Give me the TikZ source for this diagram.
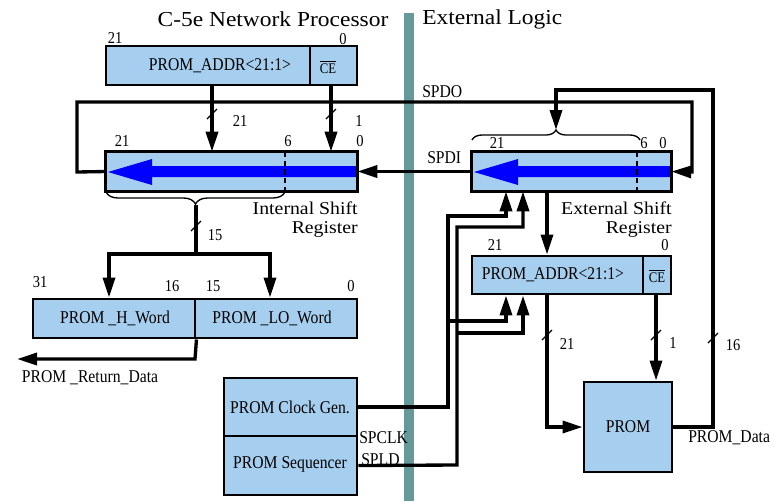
\documentclass[tikz,border=0pt]{standalone}
\usepackage{fontspec}
\setmainfont{Liberation Serif}
\newfontfamily\lblfont{Liberation Serif}[FakeStretch=0.87]
\newfontfamily\ttlfont{Liberation Serif}[FakeStretch=1.1]
\usetikzlibrary{arrows.meta,fit,decorations.pathreplacing}
\definecolor{boxblue}{RGB}{166,206,238}
\definecolor{barcol}{RGB}{102,153,153}
\definecolor{regarrow}{RGB}{0,0,255}
\begin{document}
\begin{tikzpicture}[x=0.75pt,y=-0.75pt,
  box/.style={draw=black,fill=boxblue,line width=2.2pt,inner sep=0pt},
  boxfill/.style={fill=boxblue,inner sep=0pt},
  wire/.style={line width=2.5pt},
  arr/.style={wire,-{Triangle[length=15pt,width=9pt]}},
  lbl/.style={font=\lblfont\fontsize{13.5}{15}\selectfont,inner sep=0pt},
  num/.style={font=\lblfont\fontsize{12.5}{14}\selectfont,inner sep=0pt},
  cefont/.style={font=\lblfont\fontsize{11}{12}\selectfont,inner sep=0pt},
  ttl/.style={font=\ttlfont\fontsize{16}{18}\selectfont,inner sep=0pt},
  capt/.style={font=\ttlfont\fontsize{13.5}{14.25}\selectfont,align=right,inner sep=0pt},
  slash/.style={line width=1pt},
  brc/.style={decorate,line width=1pt},
]
\useasboundingbox (0,0) rectangle (775,501);
% separator bar
\fill[barcol] (404,13) rectangle (414,501);
% titles
\node[ttl] (t1) at (273,19) {C-5e Network Processor};
\node[ttl,anchor=west] (t2) at (422,19) {External Logic};

% ---------- internal side ----------
\node[box,fit={(106,46)(310,85)}] (addrA) {};
\node[box,fit={(310,46)(357,85)}] (ceA) {};
\node[lbl] (addrAt) at (220,66) {PROM\_ADDR<21:1>};
\node[cefont] (ceAt) at (328,67) {$\overline{\hbox{CE}}$};
\node[num] (nA21) at (115,38) {21};
\node[num] (nA0) at (343,39) {0};

% internal shift register
\node[boxfill,fit={(106,152)(357,191)}] (isr) {};
\fill[regarrow] (357,166) -- (152,166) -- (152,159) -- (108,172) -- (152,185) -- (152,177) -- (357,177) -- cycle;
\draw[line width=1.6pt,dash pattern=on 4pt off 2.5pt] (285,152) -- (285,191);
\draw[line width=2.2pt] (isr.north west) rectangle (isr.south east);
\node[num] (i21) at (122,141) {21};
\node[num] (i6) at (288,141) {6};
\node[num] (i0) at (360,141) {0};
\node[capt,anchor=north east] (icap) at (358,202) {Internal Shift\\Register};
\draw[brc,decoration={brace,amplitude=9pt}] (285,192) -- (106,192);
\coordinate (ibt) at (196,205);

% arrows into internal register
\draw[arr] (addrA.south -| 212,0) -- (isr.north -| 212,0);
\draw[arr] (ceA.south -| 331,0) -- (isr.north -| 331,0);
\draw[slash] (207,119) -- (217,109);
\draw[slash] (326,119) -- (336,109);
\node[num] (s21a) at (240,121) {21};
\node[num] (s1a) at (359,121) {1};

% words
\node[box,fit={(33,299)(195,338)}] (hw) {};
\node[box,fit={(195,299)(357,338)}] (lw) {};
\node[lbl] (hwt) at (115,318) {PROM \_H\_Word};
\node[lbl] (lwt) at (272,318) {PROM \_LO\_Word};
\node[num] (w31) at (40,282) {31};
\node[num] (w16) at (172,286) {16};
\node[num] (w15) at (213,286) {15};
\node[num] (w0) at (351,286) {0};
\draw[wire] (ibt) -- (196,254);
\draw[arr] (196,254) -- (109,254) -- (hw.north -| 109,0);
\draw[arr] (196,254) -- (270,254) -- (lw.north -| 270,0);
\draw[slash] (191,231) -- (201,221);
\node[num] (s15) at (215,235) {15};
\draw[arr] (hw.south east) -- (195,359) -- (17,359);
\node[lbl] (ret) at (90,378) {PROM \_Return\_Data};

% clock gen / sequencer
\node[box,fit={(224,378)(357,436)}] (clk) {};
\node[box,fit={(224,436)(357,495)}] (seq) {};
\node[lbl] (clkt) at (290,407) {PROM Clock Gen.};
\node[lbl] (seqt) at (290,464) {PROM Sequencer};
\node[lbl,anchor=west] (spclk) at (359,438) {SPCLK};
\node[lbl,anchor=west] (spld) at (361,460) {SPLD};

% ---------- external side ----------
\node[boxfill,fit={(472,152)(671,191)}] (esr) {};
\fill[regarrow] (671,166) -- (518,166) -- (518,159) -- (474,172) -- (518,185) -- (518,177) -- (671,177) -- cycle;
\draw[line width=1.6pt,dash pattern=on 4pt off 2.5pt] (637,152) -- (637,191);
\draw[line width=2.2pt] (esr.north west) rectangle (esr.south east);
\node[num] (e21) at (497,143) {21};
\node[num] (e6) at (644,143) {6};
\node[num] (e0) at (663,143) {0};
\node[capt,anchor=north east] (ecap) at (672,202) {External Shift\\Register};
\draw[brc,decoration={brace,amplitude=7.5pt}] (472,140) -- (640,140);
\coordinate (ebt) at (556,130);

\node[box,fit={(472,256)(643,294)}] (addrB) {};
\node[box,fit={(643,256)(671,294)}] (ceB) {};
\node[lbl] (addrBt) at (553,275) {PROM\_ADDR<21:1>};
\node[cefont] (ceBt) at (657,276) {$\overline{\hbox{CE}}$};
\node[num] (b21) at (495,245) {21};
\node[num] (b0) at (665,245) {0};

\node[box,fit={(584,382)(672,472)}] (prom) {};
\node[lbl] (promt) at (628,427) {PROM};

% SPDO / SPDI
\draw[arr] (isr.west) -- (77,172) -- (77,102) -- (692,102) -- (692,172) -- (esr.east);
\node[lbl,anchor=west] (spdo) at (422,92) {SPDO};
\draw[arr] (esr.west) -- (isr.east);
\node[lbl,anchor=west] (spdi) at (427,158) {SPDI};

% ext register -> addrB
\draw[arr] (esr.south -| 547,0) -- (addrB.north -| 547,0);
% addrB -> PROM
\draw[arr] (addrB.south -| 547,0) -- (547,427) -- (prom.west);
\draw[slash] (542,340) -- (552,330);
\node[num] (s21b) at (567,344) {21};
\draw[arr] (ceB.south -| 656,0) -- (prom.north -| 656,0);
\draw[slash] (651,340) -- (661,330);
\node[num] (s1b) at (673,343) {1};

% PROM data loop
\draw[arr] (prom.east) -- (713,427) -- (713,90) -- (556,90) -- (ebt);
\draw[slash] (708,343) -- (718,333);
\node[num] (s16) at (733,345) {16};
\node[lbl,anchor=west] (pdata) at (688,438) {PROM\_Data};

% clock / load
\draw[arr] (clk.east) -- (448,407) -- (448,216) -- (506,216) -- (esr.south -| 506,0);
\draw[arr] (448,321) -- (506,321) -- (addrB.south -| 506,0);
\draw[arr] (seq.east) -- (457,465) -- (457,227) -- (523,227) -- (esr.south -| 523,0);
\draw[arr] (457,333) -- (523,333) -- (addrB.south -| 523,0);
\end{tikzpicture}
\end{document}
